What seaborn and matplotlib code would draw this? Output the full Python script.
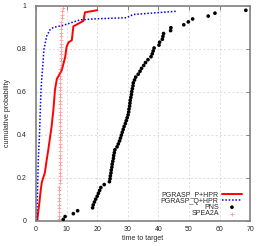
import numpy as np
import pandas as pd
import matplotlib
matplotlib.use('Agg')
import matplotlib.pyplot as plt
import seaborn as sns

# Datos (tiempo hasta el objetivo)
p_hpr_x = [0.4, 0.7, 1.1, 1.5, 1.9, 2.9, 3.5, 4.0, 4.3, 5.1, 5.7, 6.2, 6.8, 8.4, 9.5,
           10.0, 10.6, 11.7, 12.2, 15.5, 16.0, 20.0]
p_hpr_y = [0.0, 0.04, 0.085, 0.14, 0.18, 0.225, 0.285, 0.33, 0.36, 0.44, 0.52, 0.61, 0.66,
           0.70, 0.76, 0.81, 0.83, 0.84, 0.905, 0.93, 0.97, 0.98]

q_hpr_x = [0.2, 0.5, 0.75, 1.1, 1.6, 1.9, 2.2, 2.6, 3.5, 4.6, 5.7, 8.9, 14.4, 19.5,
           29.6, 31.8, 45.8]
q_hpr_y = [0.0, 0.15, 0.29, 0.39, 0.6, 0.67, 0.72, 0.80, 0.86, 0.89, 0.90, 0.91, 0.935,
           0.94, 0.945, 0.96, 0.975]

pns_t = [8.9, 9.5, 12.2, 13.6, 18.5, 18.7, 19.1, 19.5, 20.0, 20.4,
         20.8, 21.2, 22.3, 24.0, 24.2, 24.3, 24.5, 24.6, 24.8, 24.9,
         25.1, 25.3, 25.4, 25.6, 25.8, 26.5, 26.9, 27.3, 27.6, 27.9,
         28.2, 28.5, 28.8, 29.2, 29.5, 29.8, 30.1, 30.3, 30.4, 30.6,
         30.7, 30.8, 31.0, 31.2, 31.3, 31.5, 31.7, 31.8, 32.2, 32.6,
         33.4, 34.0, 34.5, 35.2, 35.8, 36.6, 37.6, 38.0, 38.3, 38.6,
         40.2, 40.4, 41.3, 41.5, 41.7, 44.0, 44.1, 48.3, 49.8, 51.2,
         56.3, 58.5, 68.6, 75.0]

spea_t = [7.55, 7.58, 7.6, 7.61, 7.62, 7.63, 7.64, 7.65, 7.66, 7.67,
          7.68, 7.69, 7.7, 7.71, 7.72, 7.73, 7.74, 7.75, 7.76, 7.77,
          7.78, 7.79, 7.8, 7.81, 7.82, 7.83, 7.84, 7.85, 7.86, 7.87,
          7.88, 7.89, 7.9, 7.91, 7.92, 7.93, 7.94, 7.95, 7.96, 7.97,
          7.98, 7.99, 8.0, 8.02, 8.04, 8.06, 8.08, 8.1, 8.12, 8.14,
          8.16, 8.18, 8.2, 8.23, 8.26, 8.3, 8.35, 8.4, 8.5, 8.7]


def ttt(tiempos):
    # probabilidad acumulada empirica p_i = (i - 1/2) / n
    t = np.sort(np.array(tiempos))
    n = len(t)
    return pd.DataFrame({'t': t, 'p': (np.arange(1, n + 1) - 0.5) / n})


df_pns = ttt(pns_t)
df_spea = ttt(spea_t)

sns.set_style('white')
plt.rcParams['font.family'] = ['Liberation Sans', 'DejaVu Sans']

fig = plt.figure(figsize=(2.63, 2.46), dpi=100)
ax = fig.add_axes([0.137, 0.102, 0.814, 0.874])

sns.lineplot(x=p_hpr_x, y=p_hpr_y, sort=False, color='#ff0000', lw=1.4,
             label='PGRASP_P+HPR', ax=ax)
sns.lineplot(x=q_hpr_x, y=q_hpr_y, sort=False, color='#0000ff', lw=1.1,
             linestyle=(0, (1, 1.2)), label='PGRASP_Q+HPR', ax=ax)
sns.scatterplot(data=df_pns, x='t', y='p', color='black', marker='o', s=7,
                edgecolor='none', label='PNS', ax=ax, zorder=3)
sns.scatterplot(data=df_spea, x='t', y='p', color='#ff4040', marker='+', s=9,
                linewidth=0.6, alpha=0.5, label='SPEA2A', ax=ax, zorder=2)

ax.set_xlim(0, 70)
ax.set_ylim(0, 1)
ax.set_xticks(range(0, 71, 10))
ax.set_yticks([0, 0.2, 0.4, 0.6, 0.8, 1])
ax.set_yticklabels(['0', '0.2', '0.4', '0.6', '0.8', '1'])
ax.grid(True, color='#d0d0d0', linestyle=(0, (3, 3)), lw=0.5)
ax.tick_params(direction='in', length=3, width=0.6, color='#707070', labelsize=5,
               top=True, right=True, pad=4)
ax.tick_params(axis='y', pad=7)
for s in ax.spines.values():
    s.set_color('#808080')
    s.set_linewidth(1.2)

ax.set_xlabel('time to target', fontsize=5, labelpad=1)
ax.set_ylabel('cumulative probability', fontsize=5, labelpad=4)

leg = ax.legend(loc='lower right', bbox_to_anchor=(0.98, 0.0), markerfirst=False,
                frameon=False, fontsize=5, handlelength=3.0, labelspacing=-0.08,
                handletextpad=0.4, borderaxespad=0.1)

fig.savefig('out.png', dpi=100)
